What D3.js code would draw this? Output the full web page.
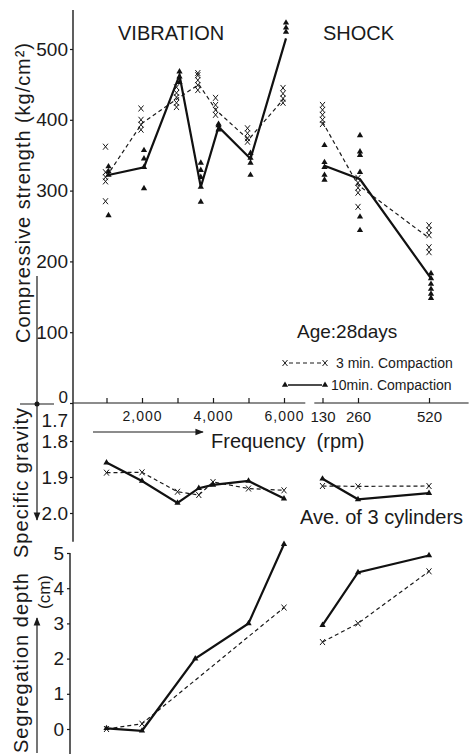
<!doctype html>
<html lang="en">
<head>
<meta charset="UTF-8" />
<title>Compaction by vibration and shock</title>
<script src="https://d3js.org/d3.v7.min.js"></script>
<style>
  body { margin: 0; padding: 0; background: #fff; }
  svg { font-family: "Liberation Sans", Arial, sans-serif; background: #fff; }
  .axis path, .axis line { fill: none; stroke: #1a1a1a; stroke-width: 1.2; }
  .axis text { fill: #1a1a1a; }
  .dash { fill: none; stroke: #1a1a1a; stroke-width: 1.2; stroke-dasharray: 4, 3; }
  .solid { fill: none; stroke: #111; stroke-width: 2.2; }
  .xmark { fill: none; stroke: #1a1a1a; stroke-width: 1; }
  .tri { fill: #111; }
</style>
</head>
<body>
<svg id="chart" width="475" height="754"></svg>
<script>
// ---- data ----
const vibFreq = [1000, 2000, 3000, 3600, 4100, 5000, 6000];
const shockRpm = [130, 260, 520];

// compressive strength (kg/cm2), single specimens
const vibStr3 = [
  [362, 326, 319, 313, 285],
  [416, 400, 393, 386],
  [446, 438, 432, 424, 418],
  [466, 463, 456, 449, 442],
  [431, 421, 414, 407],
  [388, 381, 374, 369],
  [445, 437, 430, 424]
];
const vibStr10 = [
  [334, 327, 322, 265],
  [357, 345, 333, 303],
  [468, 461, 453],
  [339, 329, 319, 305, 284],
  [394, 392, 386],
  [353, 346, 339, 322],
  [537, 530, 524]
];
const shockStr3 = [
  [421, 414, 407, 400, 394],
  [318, 311, 304, 297, 277],
  [251, 244, 237, 220, 213]
];
const shockStr10 = [
  [364, 340, 333, 322, 315],
  [378, 355, 350, 326, 263, 244],
  [183, 176, 168, 161, 154, 148]
];
// mean lines
const vibStr3Mean = [320, 395, 430, 450, 413, 372, 430];
const vibStr10Mean = [322, 333, 463, 305, 390, 345, 515];
const shockStr3Mean = [397, 308, 233];
const shockStr10Mean = [335, 316, 176];

// specific gravity (ave. of 3 cylinders)
const sgFreq = [1000, 2000, 3000, 3600, 4000, 5000, 6000];
const sgVib3 = [1.888, 1.887, 1.941, 1.950, 1.914, 1.932, 1.937];
const sgVib10 = [1.860, 1.911, 1.972, 1.931, 1.922, 1.911, 1.960];
const sgShock3 = [1.925, 1.926, 1.925];
const sgShock10 = [1.905, 1.962, 1.945];

// segregation depth (cm)
const segFreq3 = [1000, 2000, 6000];
const segVib3 = [0.0, 0.15, 3.45];
const segFreq10 = [1000, 2000, 3500, 5000, 6000];
const segVib10 = [0.02, -0.05, 2.0, 3.0, 5.25];
const segShock3 = [2.47, 3.0, 4.48];
const segShock10 = [2.95, 4.45, 4.93];

// ticks
const strTicks = [0, 100, 200, 300, 400, 500];
const sgTicks = [1.7, 1.8, 1.9, 2.0];
const segTicks = [0, 1, 2, 3, 4, 5];
const vibTicks = [1000, 2000, 3000, 4000, 5000, 6000];
const vibTickLabels = ['', '2,000', '', '4,000', '', '6,000'];
const shockTicks = [130, 260, 520];

// ---- scales ----
const xVib = d3.scaleLinear().domain([0, 6000]).range([71, 284]);
const xShock = d3.scaleLinear().domain([0, 520]).range([287, 429]);
const yStr = d3.scaleLinear().domain([0, 500]).range([403, 49]);
const ySg = d3.scaleLinear().domain([1.7, 2.0]).range([405, 513]);
const ySeg = d3.scaleLinear().domain([0, 5]).range([729, 553]);

const svg = d3.select('#chart');
svg.append('rect').attr('width', 475).attr('height', 754).attr('fill', '#fff');

const defs = svg.append('defs');
defs.append('marker')
  .attr('id', 'arrow')
  .attr('viewBox', '0 0 10 10')
  .attr('refX', 9).attr('refY', 5)
  .attr('markerWidth', 7).attr('markerHeight', 7)
  .attr('orient', 'auto-start-reverse')
  .append('path').attr('d', 'M0,1L10,5L0,9Z').attr('fill', '#1a1a1a');

const xPath = 'M-2.5,-3L2.5,3M-2.5,3L2.5,-3';
const triPath = d3.symbol(d3.symbolTriangle, 17)();

function drawX(g, pts) {
  g.selectAll(null).data(pts).enter().append('path')
    .attr('class', 'xmark')
    .attr('transform', d => `translate(${d[0]},${d[1]})`)
    .attr('d', xPath);
}
function drawTri(g, pts) {
  g.selectAll(null).data(pts).enter().append('path')
    .attr('class', 'tri')
    .attr('transform', d => `translate(${d[0]},${d[1]})`)
    .attr('d', triPath);
}
function drawLine(g, pts, cls) {
  g.append('path').attr('class', cls).attr('d', d3.line()(pts));
}
function spread(freqs, groups, xs, ys, dx) {
  return freqs.flatMap((f, i) => groups[i].map(v => [xs(f) + dx, ys(v)]));
}

// ---- axes ----
// left vertical axis (top + middle panel)
svg.append('line')
  .attr('x1', 73).attr('x2', 73)
  .attr('y1', yStr(555)).attr('y2', ySg(2.08))
  .attr('stroke', '#1a1a1a').attr('stroke-width', 1.4);

const aStr = svg.append('g').attr('class', 'axis')
  .attr('transform', 'translate(73,0)')
  .call(d3.axisLeft(yStr).tickValues(strTicks).tickSize(3).tickPadding(2));
aStr.select('.domain').remove();
aStr.selectAll('text').style('font-size', '19px');
aStr.selectAll('.tick').filter(d => d === 0).select('text')
  .attr('dy', '-0.05em').style('font-size', '17px');

const aSg = svg.append('g').attr('class', 'axis')
  .attr('transform', 'translate(73,0)')
  .call(d3.axisLeft(ySg).tickValues(sgTicks).tickSize(3).tickPadding(2)
    .tickFormat(d3.format('.1f')));
aSg.select('.domain').remove();
aSg.selectAll('text').style('font-size', '19px');
aSg.selectAll('.tick').filter(d => d === 1.7).select('text').attr('dy', '1.15em');
aSg.selectAll('.tick').filter(d => d === 1.7).select('line').remove();

// bottom panel axis
svg.append('line')
  .attr('x1', 70).attr('x2', 70)
  .attr('y1', ySeg(5.0)).attr('y2', 754)
  .attr('stroke', '#1a1a1a').attr('stroke-width', 1.4);
const aSeg = svg.append('g').attr('class', 'axis')
  .attr('transform', 'translate(70,0)')
  .call(d3.axisLeft(ySeg).tickValues(segTicks).tickSize(3).tickPadding(3)
    .tickFormat(d3.format('d')));
aSeg.select('.domain').remove();
aSeg.selectAll('text').style('font-size', '19px');

// frequency axes on the zero line of the strength panel
const aVib = svg.append('g').attr('class', 'axis')
  .attr('transform', `translate(0,${yStr(0)})`)
  .call(d3.axisBottom(xVib).tickValues(vibTicks).tickSize(-5).tickPadding(8)
    .tickFormat((d, i) => vibTickLabels[i]));
aVib.select('.domain').attr('d', `M${xVib(60)},0H${xVib(6600)}`);
aVib.selectAll('text').style('font-size', '14px').style('letter-spacing', '1px');

const aShock = svg.append('g').attr('class', 'axis')
  .attr('transform', `translate(0,${yStr(0)})`)
  .call(d3.axisBottom(xShock).tickValues(shockTicks).tickSize(-5).tickPadding(8));
aShock.select('.domain').attr('d', `M${xShock(100)},0H${xShock(665)}`);
aShock.selectAll('text').style('font-size', '15px');

// ---- compressive strength panel ----
const gTop = svg.append('g');
drawLine(gTop, d3.zip(vibFreq.map(xVib), vibStr3Mean.map(yStr)), 'dash');
drawLine(gTop, d3.zip(vibFreq.map(f => xVib(f) + 2), vibStr10Mean.map(yStr)), 'solid');
drawLine(gTop, d3.zip(shockRpm.map(xShock), shockStr3Mean.map(yStr)), 'dash');
drawLine(gTop, d3.zip(shockRpm.map(f => xShock(f) + 2), shockStr10Mean.map(yStr)), 'solid');
drawX(gTop, spread(vibFreq, vibStr3, xVib, yStr, -1));
drawTri(gTop, spread(vibFreq, vibStr10, xVib, yStr, 2));
drawX(gTop, spread(shockRpm, shockStr3, xShock, yStr, 0));
drawTri(gTop, spread(shockRpm, shockStr10, xShock, yStr, 2));

// ---- specific gravity panel ----
const gMid = svg.append('g');
drawLine(gMid, d3.zip(sgFreq.map(xVib), sgVib3.map(ySg)), 'dash');
drawLine(gMid, d3.zip(sgFreq.map(xVib), sgVib10.map(ySg)), 'solid');
drawLine(gMid, d3.zip(shockRpm.map(xShock), sgShock3.map(ySg)), 'dash');
drawLine(gMid, d3.zip(shockRpm.map(xShock), sgShock10.map(ySg)), 'solid');
drawX(gMid, d3.zip(sgFreq.map(xVib), sgVib3.map(ySg)));
drawTri(gMid, d3.zip(sgFreq.map(xVib), sgVib10.map(ySg)));
drawX(gMid, d3.zip(shockRpm.map(xShock), sgShock3.map(ySg)));
drawTri(gMid, d3.zip(shockRpm.map(xShock), sgShock10.map(ySg)));

// ---- segregation panel ----
const gBot = svg.append('g');
drawLine(gBot, d3.zip(segFreq3.map(xVib), segVib3.map(ySeg)), 'dash');
drawLine(gBot, d3.zip(segFreq10.map(xVib), segVib10.map(ySeg)), 'solid');
drawLine(gBot, d3.zip(shockRpm.map(xShock), segShock3.map(ySeg)), 'dash');
drawLine(gBot, d3.zip(shockRpm.map(xShock), segShock10.map(ySeg)), 'solid');
drawX(gBot, d3.zip(segFreq3.map(xVib), segVib3.map(ySeg)));
drawTri(gBot, d3.zip(segFreq10.map(xVib), segVib10.map(ySeg)));
drawX(gBot, d3.zip(shockRpm.map(xShock), segShock3.map(ySeg)));
drawTri(gBot, d3.zip(shockRpm.map(xShock), segShock10.map(ySeg)));

// ---- labels ----
function label(x, y, txt, size) {
  return svg.append('text').attr('x', x).attr('y', y)
    .style('font-size', size + 'px').attr('fill', '#1a1a1a').text(txt);
}
label(118, 40, 'VIBRATION', 20);
label(323, 40, 'SHOCK', 20);
label(297, 338, 'Age:28days', 19);
label(211, 448, 'Frequency  (rpm)', 20).style('white-space', 'pre');
label(300, 524, 'Ave. of 3 cylinders', 20);

// legend
drawX(svg, [[285, 363], [325, 363]]);
drawLine(svg, [[289, 363], [321, 363]], 'dash');
label(336, 368, '3 min. Compaction', 14);
drawTri(svg, [[285, 385], [325, 385]]);
svg.append('path').attr('d', d3.line()([[288, 385], [322, 385]]))
  .attr('stroke', '#111').attr('stroke-width', 1.6);
label(331, 390, '10min. Compaction', 14);

// rotated axis titles
function vlabel(x, y, txt, size, len) {
  const t = svg.append('text')
    .attr('transform', `translate(${x},${y}) rotate(-90)`)
    .attr('text-anchor', 'middle')
    .style('font-size', size + 'px').attr('fill', '#1a1a1a').text(txt);
  if (len) t.attr('textLength', len).attr('lengthAdjust', 'spacing');
  return t;
}
vlabel(30, 193, 'Compressive strength (kg/cm²)', 20, 300);
vlabel(28, 483, 'Specific gravity', 20, 150);
vlabel(28, 663, 'Segregation depth', 20, 180);
vlabel(50, 592, '(cm)', 17);

// direction arrows
svg.append('line').attr('x1', 37).attr('x2', 37).attr('y1', 276).attr('y2', 520)
  .attr('stroke', '#1a1a1a').attr('stroke-width', 1.2).attr('marker-end', 'url(#arrow)');
svg.append('line').attr('x1', 20).attr('x2', 54).attr('y1', 404).attr('y2', 404)
  .attr('stroke', '#1a1a1a').attr('stroke-width', 1.2);
svg.append('circle').attr('cx', 37).attr('cy', 404).attr('r', 2.5).attr('fill', '#1a1a1a');
svg.append('line').attr('x1', 37).attr('x2', 37).attr('y1', 753).attr('y2', 618)
  .attr('stroke', '#1a1a1a').attr('stroke-width', 1.2).attr('marker-end', 'url(#arrow)');
svg.append('line').attr('x1', 93).attr('x2', 203).attr('y1', 432).attr('y2', 432)
  .attr('stroke', '#1a1a1a').attr('stroke-width', 1.2).attr('marker-end', 'url(#arrow)');
</script>
</body>
</html>
